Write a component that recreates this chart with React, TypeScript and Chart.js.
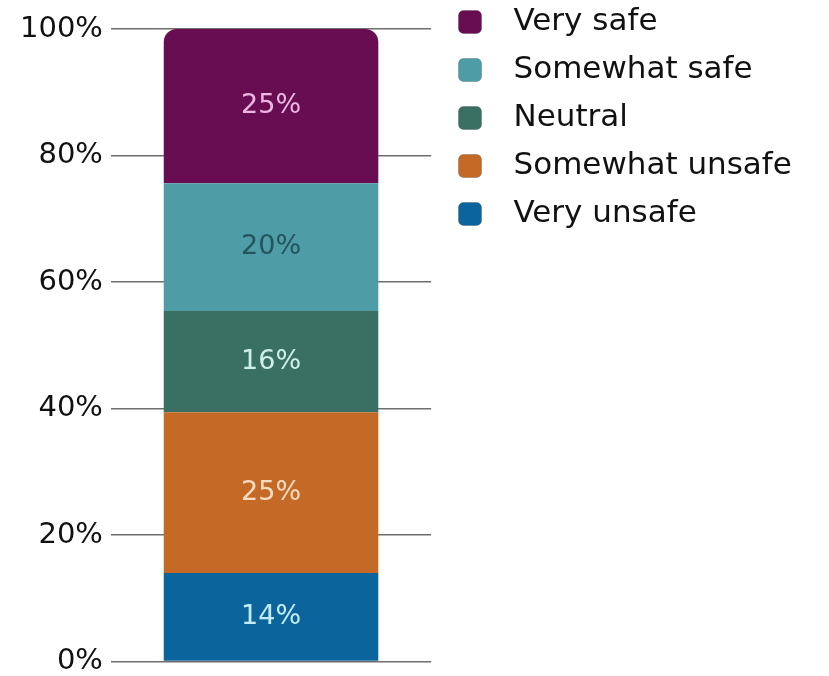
import React, { useEffect, useRef } from "react";
import { Chart, registerables } from "chart.js";

Chart.register(...registerables);

const categories = [""];
const seriesNames = ["Very unsafe", "Somewhat unsafe", "Neutral", "Somewhat safe", "Very safe"];
const seriesValues = [14.0, 25.4, 16.0, 20.2, 24.4];
const seriesLabels = ["14%", "25%", "16%", "20%", "25%"];
const seriesColors = ["#0b659c", "#c56a26", "#3a7064", "#4e9ca6", "#690d52"];
const labelColors = ["#c4ecf8", "#f7dcc2", "#cdf0e6", "#24555c", "#ecb6e2"];
const yTicks = [0, 20, 40, 60, 80, 100];

const FONT = "'DejaVu Sans', sans-serif";

function makeSwatch(color: string): HTMLCanvasElement {
  const c = document.createElement("canvas");
  c.width = 40;
  c.height = 24;
  const ctx = c.getContext("2d")!;
  ctx.fillStyle = color;
  ctx.beginPath();
  (ctx as any).roundRect(0.5, 0.5, 23, 23, 5);
  ctx.fill();
  ctx.strokeStyle = "rgba(0,0,0,0.2)";
  ctx.lineWidth = 1;
  ctx.stroke();
  return c;
}

const barLabelPlugin = {
  id: "barLabels",
  afterDatasetsDraw(chart: any) {
    const ctx = chart.ctx;
    ctx.save();
    ctx.font = `27px ${FONT}`;
    ctx.textAlign = "center";
    ctx.textBaseline = "middle";
    chart.data.datasets.forEach((ds: any, i: number) => {
      const meta = chart.getDatasetMeta(i);
      meta.data.forEach((bar: any) => {
        const y = (bar.y + bar.base) / 2;
        ctx.fillStyle = labelColors[i];
        ctx.fillText(seriesLabels[i], bar.x, y);
      });
    });
    ctx.restore();
  },
};

const legendPlacePlugin = {
  id: "legendPlace",
  afterLayout(chart: any) {
    const l = chart.legend;
    if (!l) return;
    const w = l.width;
    const h = l.height;
    l.left = 441;
    l.right = 441 + w;
    l.top = -10.5;
    l.bottom = -10.5 + h;
  },
};

export default function App() {
  const ref = useRef<HTMLCanvasElement | null>(null);
  useEffect(() => {
    if (!ref.current) return;
    const swatches = seriesColors.map(makeSwatch);
    const chart = new Chart(ref.current, {
      type: "bar",
      data: {
        labels: categories,
        datasets: seriesNames.map((name, i) => ({
          label: name,
          data: [seriesValues[i]],
          backgroundColor: seriesColors[i],
          borderWidth: 0,
          borderSkipped: false,
          borderRadius:
            i === seriesNames.length - 1
              ? { topLeft: 13, topRight: 13, bottomLeft: 0, bottomRight: 0 }
              : 0,
          barPercentage: 0.67,
          categoryPercentage: 1,
          pointStyle: swatches[i],
        })),
      },
      options: {
        animation: false,
        responsive: true,
        maintainAspectRatio: false,
        layout: { padding: { top: 29, bottom: 0, left: 20, right: 37 } },
        scales: {
          x: { stacked: true, display: false },
          y: {
            stacked: true,
            min: 0,
            max: 100,
            afterBuildTicks: (axis: any) => {
              axis.ticks = yTicks.map((v) => ({ value: v }));
            },
            ticks: {
              color: "#111",
              font: { family: FONT, size: 29, lineHeight: 1 },
              padding: 0,
              callback: (v: any) => `${v}%`,
            },
            grid: {
              color: "#6e6e6e",
              lineWidth: 1.5,
              drawTicks: true,
              tickLength: 8,
              tickColor: "rgba(0,0,0,0)",
            },
            border: { display: false },
          },
        },
        plugins: {
          tooltip: { enabled: false },
          legend: {
            position: "right",
            align: "start",
            reverse: true,
            maxWidth: 420,
            labels: {
              usePointStyle: true,
              pointStyleWidth: 40,
              boxHeight: 24,
              color: "#111",
              font: { family: FONT, size: 31 },
              padding: 17,
            },
          },
        },
      },
      plugins: [barLabelPlugin, legendPlacePlugin],
    });
    return () => chart.destroy();
  }, []);
  return (
    <div style={{ position: "absolute", left: 0, top: 0, width: 829, height: 676 }}>
      <canvas ref={ref} />
    </div>
  );
}
